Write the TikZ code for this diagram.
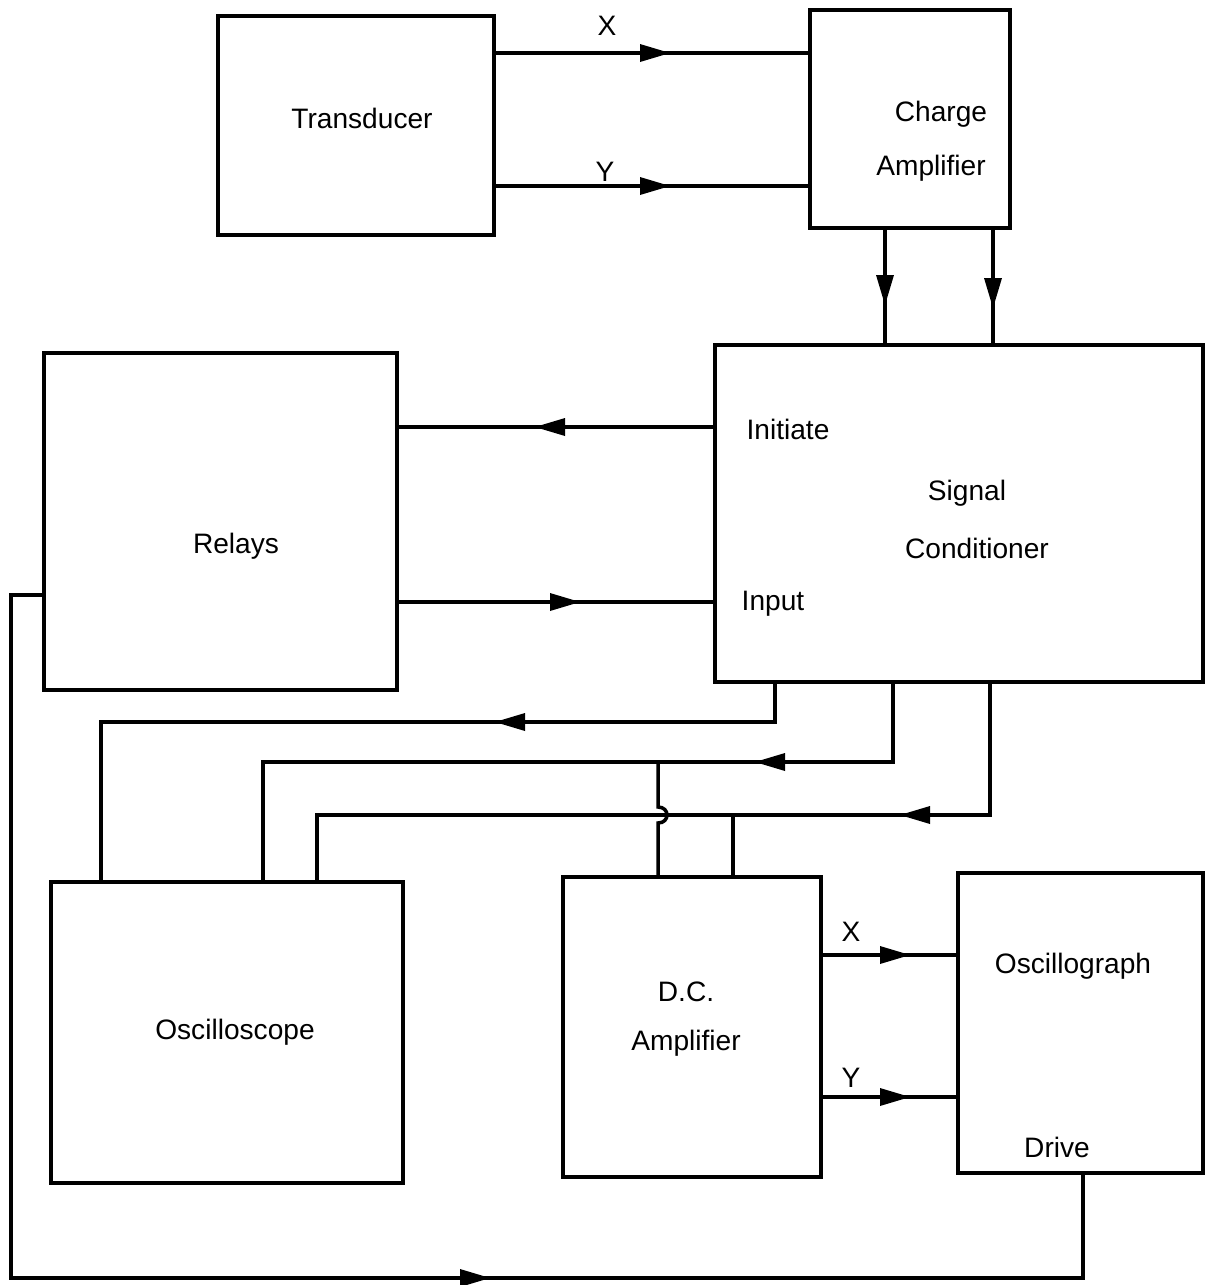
\documentclass[tikz,border=0pt]{standalone}
\usepackage{fontspec}
\setmainfont{Liberation Sans}
\usetikzlibrary{fit}
\begin{document}
\begin{tikzpicture}[x=0.02cm,y=-0.02cm,line width=2pt,
  box/.style={draw,line width=2pt,inner sep=0pt,rectangle},
  lbl/.style={font=\fontsize{16}{19}\selectfont,inner sep=0pt,anchor=center},
  arr/.pic={\fill (15,0) -- (-15,9) -- (-15,-9) -- cycle;}]
\useasboundingbox (0,0) rectangle (1214,1285);
% boxes
\node[box,fit={(218,16) (494,235)}] (trans) {};
\node[box,fit={(810,10) (1010,228)}] (champ) {};
\node[box,fit={(715,345) (1203,682)}] (sigc) {};
\node[box,fit={(44,353) (397,690)}] (relays) {};
\node[box,fit={(51,882) (403,1183)}] (oscope) {};
\node[box,fit={(563,877) (821,1177)}] (dcamp) {};
\node[box,fit={(958,873) (1203,1173)}] (ograph) {};
% texts
\node[lbl] (ttrans) at (362,118) {Transducer};
\node[lbl] (tcharge) at (941,114) {Charge};
\node[lbl] (tcamp) at (931,168) {Amplifier};
\node[lbl] (tsig) at (967,493) {Signal};
\node[lbl] (tcond) at (977,548) {Conditioner};
\node[lbl] (tinit) at (788,429) {Initiate};
\node[lbl] (tinput) at (773,604) {Input};
\node[lbl] (trel) at (236,546) {Relays};
\node[lbl] (tosc) at (235,1032) {Oscilloscope};
\node[lbl] (tdc) at (686,992) {D.C.};
\node[lbl] (tdcamp) at (686,1043) {Amplifier};
\node[lbl] (togr) at (1073,966) {Oscillograph};
\node[lbl] (tdrive) at (1057,1147) {Drive};
\node[lbl] (lx1) at (607,26) {X};
\node[lbl] (ly1) at (605,172) {Y};
\node[lbl] (lx2) at (851,932) {X};
\node[lbl] (ly2) at (851,1078) {Y};
% transducer -> charge amp
\draw (trans.east |- 0,53) -- (champ.west |- 0,53);
\pic at (655,53) {arr};
\draw (trans.east |- 0,186) -- (champ.west |- 0,186);
\pic at (655,186) {arr};
% charge amp -> signal conditioner
\draw (champ.south -| 885,0) -- (sigc.north -| 885,0);
\pic[rotate=-90] at (885,290) {arr};
\draw (champ.south -| 993,0) -- (sigc.north -| 993,0);
\pic[rotate=-90] at (993,293) {arr};
% signal conditioner <-> relays
\draw (sigc.west |- 0,427) -- (relays.east |- 0,427);
\pic[rotate=180] at (550,427) {arr};
\draw (relays.east |- 0,602) -- (sigc.west |- 0,602);
\pic at (565,602) {arr};
% signal conditioner -> oscilloscope
\draw (sigc.south -| 775,0) -- (775,722) -- (101,722) -- (oscope.north -| 101,0);
\pic[rotate=180] at (510,722) {arr};
\draw (sigc.south -| 893,0) -- (893,762) -- (263,762) -- (oscope.north -| 263,0);
\pic[rotate=180] at (770,762) {arr};
\draw (sigc.south -| 990,0) -- (990,815) -- (317,815) -- (oscope.north -| 317,0);
\pic[rotate=180] at (915,815) {arr};
% D.C. amplifier taps
\coordinate (hopb) at (658,823);
\coordinate (hopt) at (658,807);
\draw (dcamp.north -| 658,0) -- (hopb) .. controls (670,823) and (670,807) .. (hopt) -- (658,762);
\draw (dcamp.north -| 733,0) -- (733,815);
% D.C. amplifier -> oscillograph
\draw (dcamp.east |- 0,955) -- (ograph.west |- 0,955);
\pic at (895,955) {arr};
\draw (dcamp.east |- 0,1097) -- (ograph.west |- 0,1097);
\pic at (895,1097) {arr};
% relays -> oscillograph drive
\draw (relays.west |- 0,595) -- (11,595) -- (11,1278) -- (1083,1278) -- (ograph.south -| 1083,0);
\pic at (475,1278) {arr};
\end{tikzpicture}
\end{document}
